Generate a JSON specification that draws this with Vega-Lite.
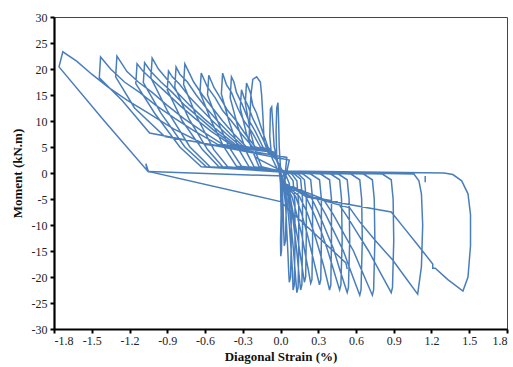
{
  "$schema": "https://vega.github.io/schema/vega-lite/v6.json",
  "width": 453,
  "height": 312,
  "autosize": {"type": "none"},
  "padding": {"left": 54, "top": 17, "right": 6, "bottom": 38},
  "background": "white",
  "config": {
    "view": {"stroke": "#444444", "strokeWidth": 1},
    "axis": {"grid": false, "labelFont": "Liberation Serif", "labelFontSize": 12, "labelColor": "#222222",
             "titleFont": "Liberation Serif", "titleFontSize": 13, "titleFontWeight": "bold", "titleColor": "#111111",
             "domainColor": "black", "domainWidth": 2.2, "tickColor": "black", "tickWidth": 2, "tickSize": 4,
             "labelExpr": "replace(datum.label, '\u2212', '-')"}
  },
  "data": {"values": [
    {"s":1,"x":0.0,"y":0.0},
    {"s":1,"x":0.0,"y":1},{"s":1,"x":-0.01,"y":5},{"s":1,"x":-0.015,"y":10},{"s":1,"x":-0.02,"y":13.5},{"s":1,"x":-0.03,"y":12.5},{"s":1,"x":-0.035,"y":8},{"s":1,"x":-0.03,"y":3},{"s":1,"x":-0.01,"y":0.5},
    {"s":1,"x":0.0,"y":-2},{"s":1,"x":0.005,"y":-8},{"s":1,"x":0.0,"y":-13},{"s":1,"x":0.002,"y":-16},{"s":1,"x":0.008,"y":-15},{"s":1,"x":0.012,"y":-8},{"s":1,"x":0.01,"y":-2},{"s":1,"x":0.0,"y":0.3},
    {"s":1,"x":-0.02,"y":2},{"s":1,"x":-0.05,"y":5},{"s":1,"x":-0.06,"y":9},{"s":1,"x":-0.07,"y":12.7},{"s":1,"x":-0.08,"y":12.3},{"s":1,"x":-0.085,"y":7},{"s":1,"x":-0.07,"y":3},{"s":1,"x":-0.03,"y":1},
    {"s":1,"x":0.01,"y":-1},{"s":1,"x":0.02,"y":-6},{"s":1,"x":0.025,"y":-11},{"s":1,"x":0.03,"y":-14},{"s":1,"x":0.04,"y":-13},{"s":1,"x":0.045,"y":-7},{"s":1,"x":0.04,"y":-2},{"s":1,"x":0.02,"y":0.2},
    {"s":1,"x":-0.03,"y":2.5},{"s":1,"x":-0.10,"y":4},{"s":1,"x":-0.13,"y":6},{"s":1,"x":-0.14,"y":11},{"s":1,"x":-0.15,"y":15},{"s":1,"x":-0.16,"y":17.5},{"s":1,"x":-0.19,"y":18.5},{"s":1,"x":-0.22,"y":18},{"s":1,"x":-0.235,"y":15},{"s":1,"x":-0.245,"y":10},{"s":1,"x":-0.25,"y":6},{"s":1,"x":-0.2,"y":3},{"s":1,"x":-0.08,"y":1.5},{"s":1,"x":0.0,"y":0.5},
    {"s":1,"x":0.02,"y":-2},{"s":1,"x":0.04,"y":-6},{"s":1,"x":0.05,"y":-11},{"s":1,"x":0.06,"y":-16},{"s":1,"x":0.065,"y":-19},{"s":1,"x":0.07,"y":-21},{"s":1,"x":0.08,"y":-20},{"s":1,"x":0.085,"y":-14},{"s":1,"x":0.085,"y":-7},{"s":1,"x":0.07,"y":-2},{"s":1,"x":0.04,"y":-0.3},{"s":1,"x":0.0,"y":0.5},
    {"s":1,"x":-0.05,"y":3.5},{"s":1,"x":-0.10,"y":5},{"s":1,"x":-0.15,"y":8.5},{"s":1,"x":-0.19,"y":11.5},{"s":1,"x":-0.22,"y":13},{"s":1,"x":-0.24,"y":15.5},{"s":1,"x":-0.27,"y":17.3},{"s":1,"x":-0.28,"y":13.5},{"s":1,"x":-0.24,"y":8},{"s":1,"x":-0.19,"y":3.5},{"s":1,"x":-0.15,"y":1.2},{"s":1,"x":0.0,"y":0.3},
    {"s":1,"x":0.02,"y":-1.5},{"s":1,"x":0.05,"y":-5},{"s":1,"x":0.07,"y":-10},{"s":1,"x":0.085,"y":-15},{"s":1,"x":0.095,"y":-19},{"s":1,"x":0.10,"y":-22.5},{"s":1,"x":0.11,"y":-21.5},{"s":1,"x":0.115,"y":-14},{"s":1,"x":0.115,"y":-6},{"s":1,"x":0.10,"y":-1.5},{"s":1,"x":0.06,"y":-0.2},{"s":1,"x":0.0,"y":0.6},
    {"s":1,"x":-0.04,"y":3},{"s":1,"x":-0.11,"y":5},{"s":1,"x":-0.17,"y":8},{"s":1,"x":-0.22,"y":10.5},{"s":1,"x":-0.26,"y":13},{"s":1,"x":-0.29,"y":14.5},{"s":1,"x":-0.31,"y":16},{"s":1,"x":-0.32,"y":12.5},{"s":1,"x":-0.27,"y":7.5},{"s":1,"x":-0.21,"y":3.5},{"s":1,"x":-0.17,"y":1.2},{"s":1,"x":0.0,"y":0.4},
    {"s":1,"x":0.02,"y":-1.5},{"s":1,"x":0.06,"y":-4.5},{"s":1,"x":0.08,"y":-9},{"s":1,"x":0.10,"y":-14},{"s":1,"x":0.115,"y":-18.5},{"s":1,"x":0.13,"y":-23},{"s":1,"x":0.14,"y":-22},{"s":1,"x":0.145,"y":-14},{"s":1,"x":0.145,"y":-6},{"s":1,"x":0.13,"y":-1.5},{"s":1,"x":0.09,"y":-0.2},{"s":1,"x":0.0,"y":0.7},
    {"s":1,"x":-0.05,"y":3.5},{"s":1,"x":-0.14,"y":5},{"s":1,"x":-0.2,"y":8},{"s":1,"x":-0.26,"y":10.5},{"s":1,"x":-0.31,"y":13.5},{"s":1,"x":-0.35,"y":15.5},{"s":1,"x":-0.37,"y":17.5},{"s":1,"x":-0.39,"y":18.5},{"s":1,"x":-0.40,"y":14.5},{"s":1,"x":-0.34,"y":9},{"s":1,"x":-0.27,"y":4},{"s":1,"x":-0.21,"y":1.2},{"s":1,"x":0.0,"y":0.3},
    {"s":1,"x":0.03,"y":-2},{"s":1,"x":0.07,"y":-5},{"s":1,"x":0.10,"y":-9},{"s":1,"x":0.125,"y":-14},{"s":1,"x":0.145,"y":-19},{"s":1,"x":0.16,"y":-22.5},{"s":1,"x":0.17,"y":-21.5},{"s":1,"x":0.175,"y":-13},{"s":1,"x":0.175,"y":-5},{"s":1,"x":0.16,"y":-1.2},{"s":1,"x":0.11,"y":-0.2},{"s":1,"x":0.0,"y":0.6},
    {"s":1,"x":-0.05,"y":3.5},{"s":1,"x":-0.16,"y":5},{"s":1,"x":-0.23,"y":8},{"s":1,"x":-0.29,"y":10},{"s":1,"x":-0.34,"y":12.5},{"s":1,"x":-0.39,"y":15.5},{"s":1,"x":-0.43,"y":17},{"s":1,"x":-0.46,"y":19.2},{"s":1,"x":-0.47,"y":15.2},{"s":1,"x":-0.41,"y":10},{"s":1,"x":-0.33,"y":4.5},{"s":1,"x":-0.25,"y":1.2},{"s":1,"x":0.0,"y":0.2},
    {"s":1,"x":0.03,"y":-2},{"s":1,"x":0.08,"y":-5},{"s":1,"x":0.11,"y":-9},{"s":1,"x":0.14,"y":-13},{"s":1,"x":0.165,"y":-17},{"s":1,"x":0.19,"y":-21},{"s":1,"x":0.20,"y":-20},{"s":1,"x":0.205,"y":-12},{"s":1,"x":0.205,"y":-5},{"s":1,"x":0.19,"y":-1.3},{"s":1,"x":0.14,"y":-0.2},{"s":1,"x":0.0,"y":0.5},
    {"s":1,"x":-0.05,"y":4},{"s":1,"x":-0.20,"y":5},{"s":1,"x":-0.28,"y":7.5},{"s":1,"x":-0.35,"y":10},{"s":1,"x":-0.42,"y":12},{"s":1,"x":-0.48,"y":14.5},{"s":1,"x":-0.53,"y":16.5},{"s":1,"x":-0.57,"y":18.8},{"s":1,"x":-0.58,"y":15},{"s":1,"x":-0.50,"y":10},{"s":1,"x":-0.41,"y":5},{"s":1,"x":-0.31,"y":1.3},{"s":1,"x":0.0,"y":0.3},
    {"s":1,"x":0.03,"y":-2},{"s":1,"x":0.09,"y":-4.5},{"s":1,"x":0.13,"y":-8},{"s":1,"x":0.17,"y":-12},{"s":1,"x":0.20,"y":-16},{"s":1,"x":0.22,"y":-18.5},{"s":1,"x":0.24,"y":-21.2},{"s":1,"x":0.25,"y":-20.5},{"s":1,"x":0.255,"y":-13},{"s":1,"x":0.255,"y":-5},{"s":1,"x":0.24,"y":-1.3},{"s":1,"x":0.18,"y":-0.2},{"s":1,"x":0.0,"y":0.5},
    {"s":1,"x":-0.05,"y":4},{"s":1,"x":-0.22,"y":5},{"s":1,"x":-0.31,"y":7.5},{"s":1,"x":-0.39,"y":10},{"s":1,"x":-0.46,"y":12},{"s":1,"x":-0.52,"y":14.5},{"s":1,"x":-0.58,"y":16.5},{"s":1,"x":-0.63,"y":19.2},{"s":1,"x":-0.64,"y":15.5},{"s":1,"x":-0.55,"y":10},{"s":1,"x":-0.45,"y":5},{"s":1,"x":-0.35,"y":1.3},{"s":1,"x":0.0,"y":0.3},
    {"s":1,"x":0.03,"y":-2},{"s":1,"x":0.12,"y":-4.5},{"s":1,"x":0.17,"y":-8},{"s":1,"x":0.21,"y":-11.5},{"s":1,"x":0.25,"y":-15.5},{"s":1,"x":0.28,"y":-18.5},{"s":1,"x":0.31,"y":-21.5},{"s":1,"x":0.32,"y":-20.5},{"s":1,"x":0.325,"y":-13},{"s":1,"x":0.325,"y":-5},{"s":1,"x":0.31,"y":-1.3},{"s":1,"x":0.24,"y":-0.2},{"s":1,"x":0.0,"y":0.5},
    {"s":1,"x":-0.05,"y":4},{"s":1,"x":-0.27,"y":5},{"s":1,"x":-0.37,"y":7.5},{"s":1,"x":-0.46,"y":10},{"s":1,"x":-0.54,"y":12.5},{"s":1,"x":-0.62,"y":15},{"s":1,"x":-0.69,"y":17.5},{"s":1,"x":-0.73,"y":19.5},{"s":1,"x":-0.76,"y":21},{"s":1,"x":-0.77,"y":17},{"s":1,"x":-0.67,"y":11},{"s":1,"x":-0.53,"y":4.5},{"s":1,"x":-0.42,"y":1.2},{"s":1,"x":0.0,"y":0.2},
    {"s":1,"x":0.03,"y":-2},{"s":1,"x":0.15,"y":-4.5},{"s":1,"x":0.21,"y":-7.5},{"s":1,"x":0.26,"y":-11},{"s":1,"x":0.31,"y":-15},{"s":1,"x":0.35,"y":-18.5},{"s":1,"x":0.39,"y":-22.5},{"s":1,"x":0.40,"y":-21.5},{"s":1,"x":0.405,"y":-13},{"s":1,"x":0.405,"y":-5},{"s":1,"x":0.39,"y":-1.3},{"s":1,"x":0.32,"y":-0.2},{"s":1,"x":0.0,"y":0.4},
    {"s":1,"x":-0.05,"y":4},{"s":1,"x":-0.29,"y":5},{"s":1,"x":-0.40,"y":7.5},{"s":1,"x":-0.50,"y":10},{"s":1,"x":-0.59,"y":12.5},{"s":1,"x":-0.67,"y":15},{"s":1,"x":-0.74,"y":17.5},{"s":1,"x":-0.80,"y":19},{"s":1,"x":-0.83,"y":20.4},{"s":1,"x":-0.84,"y":16.5},{"s":1,"x":-0.73,"y":10.5},{"s":1,"x":-0.58,"y":4.5},{"s":1,"x":-0.46,"y":1.2},{"s":1,"x":0.0,"y":0.2},
    {"s":1,"x":0.03,"y":-2},{"s":1,"x":0.2,"y":-4.5},{"s":1,"x":0.26,"y":-7.5},{"s":1,"x":0.32,"y":-11},{"s":1,"x":0.37,"y":-14.5},{"s":1,"x":0.42,"y":-18.5},{"s":1,"x":0.47,"y":-22.5},{"s":1,"x":0.48,"y":-21.5},{"s":1,"x":0.49,"y":-13},{"s":1,"x":0.485,"y":-5},{"s":1,"x":0.47,"y":-1.3},{"s":1,"x":0.40,"y":-0.2},{"s":1,"x":0.0,"y":0.3},
    {"s":1,"x":-0.05,"y":4},{"s":1,"x":-0.31,"y":5},{"s":1,"x":-0.43,"y":7.5},{"s":1,"x":-0.54,"y":10},{"s":1,"x":-0.64,"y":12.5},{"s":1,"x":-0.72,"y":14.5},{"s":1,"x":-0.80,"y":17},{"s":1,"x":-0.86,"y":18.5},{"s":1,"x":-0.89,"y":19.6},{"s":1,"x":-0.90,"y":16},{"s":1,"x":-0.78,"y":10},{"s":1,"x":-0.62,"y":4.5},{"s":1,"x":-0.49,"y":1.2},{"s":1,"x":0.0,"y":0.2},
    {"s":1,"x":0.03,"y":-2},{"s":1,"x":0.24,"y":-4.5},{"s":1,"x":0.30,"y":-7.5},{"s":1,"x":0.36,"y":-11},{"s":1,"x":0.42,"y":-14.5},{"s":1,"x":0.47,"y":-18.5},{"s":1,"x":0.53,"y":-23},{"s":1,"x":0.54,"y":-22},{"s":1,"x":0.55,"y":-13},{"s":1,"x":0.545,"y":-5},{"s":1,"x":0.53,"y":-1.3},{"s":1,"x":0.46,"y":-0.2},{"s":1,"x":0.0,"y":0.3},
    {"s":1,"x":-0.05,"y":4},{"s":1,"x":-0.36,"y":5.5},{"s":1,"x":-0.49,"y":8},{"s":1,"x":-0.61,"y":10.5},{"s":1,"x":-0.72,"y":13},{"s":1,"x":-0.82,"y":15.5},{"s":1,"x":-0.90,"y":18},{"s":1,"x":-0.97,"y":20},{"s":1,"x":-1.02,"y":22.1},{"s":1,"x":-1.03,"y":18.3},{"s":1,"x":-0.90,"y":12},{"s":1,"x":-0.72,"y":5},{"s":1,"x":-0.56,"y":1.2},{"s":1,"x":0.0,"y":0.2},
    {"s":1,"x":0.03,"y":-2},{"s":1,"x":0.29,"y":-5},{"s":1,"x":0.36,"y":-8},{"s":1,"x":0.43,"y":-11.5},{"s":1,"x":0.50,"y":-15},{"s":1,"x":0.56,"y":-19},{"s":1,"x":0.63,"y":-23.5},{"s":1,"x":0.64,"y":-22.5},{"s":1,"x":0.65,"y":-13},{"s":1,"x":0.645,"y":-5},{"s":1,"x":0.63,"y":-1.3},{"s":1,"x":0.56,"y":-0.2},{"s":1,"x":0.0,"y":0.3},
    {"s":1,"x":-0.05,"y":4},{"s":1,"x":-0.38,"y":5.5},{"s":1,"x":-0.52,"y":8},{"s":1,"x":-0.64,"y":10.5},{"s":1,"x":-0.76,"y":13},{"s":1,"x":-0.86,"y":15.5},{"s":1,"x":-0.95,"y":17.5},{"s":1,"x":-1.03,"y":19.5},{"s":1,"x":-1.08,"y":21.2},{"s":1,"x":-1.09,"y":17.4},{"s":1,"x":-0.95,"y":11.5},{"s":1,"x":-0.76,"y":5},{"s":1,"x":-0.59,"y":1.2},{"s":1,"x":0.0,"y":0.2},
    {"s":1,"x":0.03,"y":-2},{"s":1,"x":0.34,"y":-5},{"s":1,"x":0.42,"y":-8},{"s":1,"x":0.50,"y":-11.5},{"s":1,"x":0.58,"y":-15},{"s":1,"x":0.65,"y":-19},{"s":1,"x":0.73,"y":-23.5},{"s":1,"x":0.74,"y":-22.5},{"s":1,"x":0.75,"y":-13},{"s":1,"x":0.745,"y":-5},{"s":1,"x":0.73,"y":-1.3},{"s":1,"x":0.66,"y":-0.2},{"s":1,"x":0.0,"y":0.3},
    {"s":1,"x":-0.05,"y":4},{"s":1,"x":-0.40,"y":5.5},{"s":1,"x":-0.55,"y":8},{"s":1,"x":-0.68,"y":10.5},{"s":1,"x":-0.80,"y":13},{"s":1,"x":-0.91,"y":15.5},{"s":1,"x":-1.00,"y":17.5},{"s":1,"x":-1.09,"y":19.5},{"s":1,"x":-1.14,"y":21},{"s":1,"x":-1.15,"y":17.2},{"s":1,"x":-1.0,"y":11.5},{"s":1,"x":-0.80,"y":5},{"s":1,"x":-0.63,"y":1.2},{"s":1,"x":0.0,"y":0.2},
    {"s":1,"x":0.03,"y":-2},{"s":1,"x":0.22,"y":-4.5},{"s":1,"x":0.45,"y":-5.5},{"s":1,"x":0.52,"y":-8},{"s":1,"x":0.61,"y":-11.5},{"s":1,"x":0.70,"y":-15},{"s":1,"x":0.79,"y":-19},{"s":1,"x":0.88,"y":-23},{"s":1,"x":0.89,"y":-22},{"s":1,"x":0.90,"y":-13},{"s":1,"x":0.895,"y":-5},{"s":1,"x":0.88,"y":-1.3},{"s":1,"x":0.81,"y":-0.2},{"s":1,"x":0.0,"y":0.3},
    {"s":1,"x":-0.05,"y":4},{"s":1,"x":-0.46,"y":5.5},{"s":1,"x":-0.62,"y":8},{"s":1,"x":-0.77,"y":10.5},{"s":1,"x":-0.90,"y":13},{"s":1,"x":-1.02,"y":15.5},{"s":1,"x":-1.13,"y":17.5},{"s":1,"x":-1.22,"y":19.5},{"s":1,"x":-1.30,"y":22.5},{"s":1,"x":-1.31,"y":18.5},{"s":1,"x":-1.16,"y":12.5},{"s":1,"x":-0.92,"y":7},{"s":1,"x":0.05,"y":3},
    {"s":1,"x":0.03,"y":-2},{"s":1,"x":0.22,"y":-4.5},{"s":1,"x":0.55,"y":-6.7},{"s":1,"x":0.63,"y":-9.4},{"s":1,"x":0.75,"y":-12.9},{"s":1,"x":0.89,"y":-16.7},{"s":1,"x":0.99,"y":-20},{"s":1,"x":1.09,"y":-23.3},{"s":1,"x":1.12,"y":-18},{"s":1,"x":1.13,"y":-10},{"s":1,"x":1.12,"y":-4},{"s":1,"x":1.10,"y":-1.5},{"s":1,"x":1.06,"y":-0.2},{"s":1,"x":0.0,"y":0.3},
    {"s":1,"x":-0.05,"y":4},{"s":1,"x":-0.50,"y":5.5},{"s":1,"x":-0.68,"y":8},{"s":1,"x":-0.84,"y":10.5},{"s":1,"x":-0.99,"y":13},{"s":1,"x":-1.12,"y":15.5},{"s":1,"x":-1.24,"y":17.5},{"s":1,"x":-1.35,"y":20},{"s":1,"x":-1.43,"y":22.3},{"s":1,"x":-1.44,"y":18.3},{"s":1,"x":-1.26,"y":14},{"s":1,"x":-1.04,"y":7.7},{"s":1,"x":0.07,"y":2.5},
    {"s":1,"x":0.03,"y":-2},{"s":1,"x":0.21,"y":-4.6},{"s":1,"x":0.88,"y":-7.5},{"s":1,"x":0.98,"y":-10.5},{"s":1,"x":1.08,"y":-13.5},{"s":1,"x":1.21,"y":-17.5},{"s":1,"x":1.21,"y":-18.3},{"s":1,"x":1.23,"y":-18.3},{"s":1,"x":1.33,"y":-20.5},{"s":1,"x":1.45,"y":-22.7},{"s":1,"x":1.49,"y":-20},{"s":1,"x":1.51,"y":-14},{"s":1,"x":1.51,"y":-8},{"s":1,"x":1.49,"y":-4},{"s":1,"x":1.44,"y":-1.5},{"s":1,"x":1.37,"y":-0.3},{"s":1,"x":1.3,"y":0},{"s":1,"x":0.0,"y":0.4},
    {"s":1,"x":-0.05,"y":4},{"s":1,"x":-0.6,"y":5.5},{"s":1,"x":-0.85,"y":8.5},{"s":1,"x":-1.05,"y":11.5},{"s":1,"x":-1.22,"y":14},{"s":1,"x":-1.37,"y":16.5},{"s":1,"x":-1.50,"y":19},{"s":1,"x":-1.62,"y":21.5},{"s":1,"x":-1.73,"y":23.3},{"s":1,"x":-1.76,"y":20.4},{"s":1,"x":-1.40,"y":10},{"s":1,"x":-1.06,"y":0.5},{"s":1,"x":-1.07,"y":1.8},{"s":1,"x":-1.05,"y":0.3},{"s":1,"x":0.0,"y":-5.5},{"s":1,"x":0.52,"y":-17.3},{"s":1,"x":0.53,"y":-18.5},
    {"s":2,"x":-1.05,"y":0.3},{"s":2,"x":0.03,"y":-0.6},
    {"s":3,"x":1.15,"y":-0.6},{"s":3,"x":1.15,"y":-1.8}
  ]},
  "mark": {"type": "line", "color": "#4a7ebb", "strokeWidth": 1.5, "clip": true},
  "encoding": {
    "x": {"field": "x", "type": "quantitative", "scale": {"domain": [-1.8, 1.8], "nice": false, "zero": false},
          "axis": {"values": [-1.8,-1.5,-1.2,-0.9,-0.6,-0.3,0,0.3,0.6,0.9,1.2,1.5,1.8], "format": ".1f", "title": "Diagonal Strain (%)", "labelPadding": 2, "titlePadding": 4}},
    "y": {"field": "y", "type": "quantitative", "scale": {"domain": [-30, 30], "nice": false, "zero": false},
          "axis": {"values": [-30,-25,-20,-15,-10,-5,0,5,10,15,20,25,30], "title": "Moment (kN.m)", "labelPadding": 3, "titlePadding": 7}},
    "detail": {"field": "s", "type": "nominal"},
    "order": {"value": null}
  }
}
